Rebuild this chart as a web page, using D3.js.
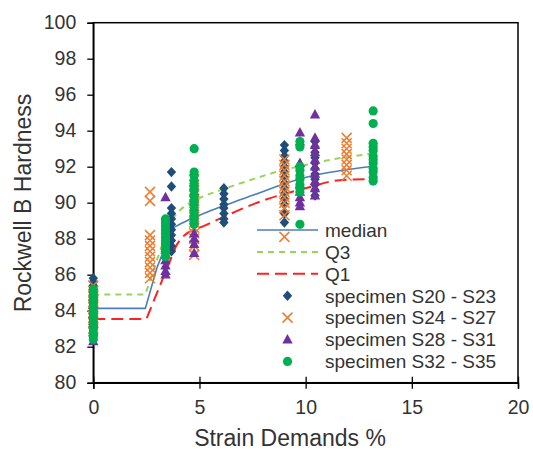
<!DOCTYPE html>
<html>
<head>
  <meta charset="utf-8">
  <script src="https://cdn.jsdelivr.net/npm/d3@7"></script>
  <style>
    body { margin: 0; background: #fff; }
    text { font-family: "Liberation Sans", Arial, sans-serif; fill: #333; }
  </style>
</head>
<body>
  <div id="chart"></div>
  <script>
    // quartile lines (strain %, Rockwell B)
    const medianStrain = [0, 2.45, 3.0, 3.75, 4.5, 5.4, 6.3, 7.6, 9.0, 10.5, 12.0, 13.0];
    const medianHard = [84.13, 84.13, 86.4, 88.6, 89.05, 89.5, 89.9, 90.45, 91.05, 91.55, 91.85, 92.0];
    const q3Strain = [0, 2.45, 3.6, 4.1, 5.0, 6.0, 7.4, 8.3, 10.0, 11.5, 13.0];
    const q3Hard = [84.9, 84.9, 88.9, 89.6, 90.25, 90.7, 91.26, 91.6, 92.1, 92.45, 92.7];
    const q1Strain = [0, 2.5, 3.9, 4.2, 5.3, 6.5, 7.6, 8.3, 10.0, 11.6, 12.9];
    const q1Hard = [83.54, 83.54, 87.6, 88.1, 88.75, 89.4, 89.95, 90.24, 90.8, 91.25, 91.3];
    // number of leading straight points on each line
    const straightPts = { median: 4, q3: 3, q1: 3 };

    // specimens: [strain, hardness]
    const s20_23 = [
      [0, 85.8], [0, 85.6], [0, 85.4], [0, 85.1], [0, 84.8], [0, 84.5], [0, 84.2], [0, 83.9], [0, 83.6], [0, 83.3], [0, 83.0], [0, 82.7],
      [3.68, 91.7], [3.68, 90.9], [3.68, 89.7], [3.68, 89.4], [3.68, 89.1], [3.68, 88.8], [3.68, 88.5], [3.68, 88.2], [3.68, 87.9], [3.68, 87.6], [3.68, 87.3],
      [6.15, 90.8], [6.15, 90.5], [6.15, 90.2], [6.15, 89.9], [6.15, 89.7], [6.15, 89.4], [6.15, 89.1], [6.15, 88.9],
      [9.0, 93.2], [9.0, 92.9], [9.0, 92.6], [9.0, 92.3], [9.0, 92.0], [9.0, 91.7], [9.0, 91.4], [9.0, 91.1], [9.0, 90.8], [9.0, 90.5], [9.0, 90.2], [9.0, 89.9], [9.0, 89.4], [9.0, 88.9],
      [10.44, 93.4], [10.44, 93.1], [10.44, 92.8], [10.44, 92.5], [10.44, 92.2], [10.44, 91.9], [10.44, 91.6], [10.44, 91.3], [10.44, 91.0], [10.44, 90.7], [10.44, 90.4]
    ];
    const s24_27 = [
      [0, 85.4], [0, 85.1], [0, 84.8], [0, 84.5], [0, 84.2], [0, 83.9], [0, 83.6], [0, 83.3], [0, 83.0],
      [2.67, 90.6], [2.67, 90.1], [2.67, 88.2], [2.67, 87.9], [2.67, 87.6], [2.67, 87.3], [2.67, 87.0], [2.67, 86.7], [2.67, 86.4], [2.67, 86.1], [2.67, 85.8],
      [4.75, 91.3], [4.75, 91.0], [4.75, 90.7], [4.75, 90.4], [4.75, 90.1], [4.75, 89.8], [4.75, 89.5], [4.75, 89.2], [4.75, 88.9], [4.75, 88.6], [4.75, 88.3], [4.75, 88.0], [4.75, 87.6], [4.75, 87.1],
      [9.0, 92.4], [9.0, 92.1], [9.0, 91.8], [9.0, 91.5], [9.0, 91.2], [9.0, 90.9], [9.0, 90.6], [9.0, 90.3], [9.0, 90.0], [9.0, 89.7], [9.0, 89.3], [9.0, 88.1],
      [11.93, 93.6], [11.93, 93.3], [11.93, 93.0], [11.93, 92.7], [11.93, 92.4], [11.93, 92.1], [11.93, 91.8], [11.93, 91.5]
    ];
    const s28_31 = [
      [0, 84.8], [0, 84.3], [0, 83.8], [0, 83.3], [0, 82.8], [0, 82.3],
      [3.4, 90.3], [3.4, 87.4], [3.4, 87.1], [3.4, 86.8], [3.4, 86.5], [3.4, 86.2], [3.4, 86.0],
      [4.75, 88.3], [4.75, 88.0], [4.75, 87.7], [4.75, 87.2],
      [9.73, 93.9], [9.73, 93.4], [9.73, 92.2], [9.73, 91.0], [9.73, 90.6], [9.73, 90.3], [9.73, 90.0], [9.73, 89.8],
      [10.44, 94.9], [10.44, 93.6], [10.44, 93.2], [10.44, 92.8], [10.44, 92.4], [10.44, 92.0], [10.44, 91.6], [10.44, 91.2], [10.44, 90.8], [10.44, 90.4]
    ];
    const s32_35 = [
      [0, 85.2], [0, 85.0], [0, 84.8], [0, 84.6], [0, 84.4], [0, 84.2], [0, 84.0], [0, 83.8], [0, 83.6], [0, 83.4], [0, 83.2], [0, 83.0], [0, 82.8], [0, 82.6], [0, 82.4],
      [3.4, 89.1], [3.4, 88.9], [3.4, 88.7], [3.4, 88.5], [3.4, 88.3], [3.4, 88.1], [3.4, 87.9], [3.4, 87.7], [3.4, 87.5], [3.4, 87.3], [3.4, 87.0],
      [4.75, 93.0], [4.75, 91.7], [4.75, 91.5], [4.75, 91.2], [4.75, 90.9], [4.75, 90.7], [4.75, 90.4], [4.75, 90.1], [4.75, 89.9], [4.75, 89.6], [4.75, 89.3], [4.75, 89.1], [4.75, 88.8],
      [9.73, 93.4], [9.73, 93.1], [9.73, 92.0], [9.73, 91.8], [9.73, 91.5], [9.73, 91.3], [9.73, 91.0], [9.73, 90.8], [9.73, 90.6], [9.73, 88.8],
      [13.18, 95.1], [13.18, 94.4], [13.18, 93.3], [13.18, 93.1], [13.18, 92.9], [13.18, 92.6], [13.18, 92.4], [13.18, 92.2], [13.18, 91.9], [13.18, 91.7], [13.18, 91.4], [13.18, 91.2]
    ];

    const xTicks = [0, 5, 10, 15, 20];
    const yTicks = [80, 82, 84, 86, 88, 90, 92, 94, 96, 98, 100];

    const W = 533, H = 450;
    const margin = { top: 22.7, right: 15, bottom: 67.3, left: 93.3 };

    const svg = d3.select("#chart").append("svg")
      .attr("width", W).attr("height", H);

    const x = d3.scaleLinear().domain([0, 20]).range([margin.left, W - margin.right]);
    const y = d3.scaleLinear().domain([80, 100]).range([H - margin.bottom, margin.top]);

    // frame
    svg.append("rect")
      .attr("x", x(0)).attr("y", y(100))
      .attr("width", x(20) - x(0)).attr("height", y(80) - y(100))
      .attr("fill", "none").attr("stroke", "#000").attr("stroke-width", 1.5);

    // y axis
    const yAxis = svg.append("g")
      .attr("transform", `translate(${x(0)},0)`)
      .call(d3.axisLeft(y).tickValues(yTicks).tickSize(6).tickPadding(11));
    // x axis
    const xAxis = svg.append("g")
      .attr("transform", `translate(0,${y(80)})`)
      .call(d3.axisBottom(x).tickValues(xTicks).tickSize(6).tickPadding(11));
    xAxis.selectAll(".tick line").attr("y1", -6).attr("y2", 6);

    [xAxis, yAxis].forEach(g => {
      g.select(".domain").attr("stroke", "#000").attr("stroke-width", 1.5);
      g.selectAll(".tick line").attr("stroke", "#000").attr("stroke-width", 1.3);
      g.selectAll("text").attr("font-size", 19.5).attr("fill", "#333")
        .style("font-family", "'Liberation Sans', Arial, sans-serif");
    });

    // axis titles
    svg.append("text")
      .attr("x", 290).attr("y", 446)
      .attr("text-anchor", "middle").attr("font-size", 23)
      .text("Strain Demands %");
    svg.append("text")
      .attr("transform", "translate(31,203) rotate(-90)")
      .attr("text-anchor", "middle").attr("font-size", 23)
      .text("Rockwell B Hardness");

    // quartile lines
    const lineDefs = [
      { key: "median", xs: medianStrain, ys: medianHard, color: "#4a7ebb", width: 1.6, dash: null, label: "median" },
      { key: "q3", xs: q3Strain, ys: q3Hard, color: "#9bd35a", width: 2, dash: "6,5", label: "Q3" },
      { key: "q1", xs: q1Strain, ys: q1Hard, color: "#ff2020", width: 2, dash: "12,6", label: "Q1" }
    ];

    const straight = d3.line().x(d => x(d[0])).y(d => y(d[1]));
    const smooth = d3.line().x(d => x(d[0])).y(d => y(d[1])).curve(d3.curveMonotoneX);

    lineDefs.forEach(l => {
      const pts = l.xs.map((v, i) => [v, l.ys[i]]);
      const k = straightPts[l.key];
      const d = straight(pts.slice(0, k)) + smooth(pts.slice(k - 1)).replace(/^M[^LC]*/, "");
      svg.append("path")
        .attr("d", d)
        .attr("fill", "none")
        .attr("stroke", l.color)
        .attr("stroke-width", l.width)
        .attr("stroke-dasharray", l.dash);
    });

    // markers
    const shapes = {
      diamond: "M0,-5.2L4.7,0L0,5.2L-4.7,0Z",
      cross: "M-5,-5L5,5M-5,5L5,-5",
      triangle: "M0,-5.6L5.2,3.9L-5.2,3.9Z"
    };
    const scatterDefs = [
      { data: s20_23, shape: "diamond", color: "#1f4e79", label: "specimen S20 - S23" },
      { data: s24_27, shape: "cross", color: "#ed7d31", label: "specimen S24 - S27" },
      { data: s28_31, shape: "triangle", color: "#7030a0", label: "specimen S28 - S31" },
      { data: s32_35, shape: "circle", color: "#00b050", label: "specimen S32 - S35" }
    ];

    function drawMarker(g, shape, color) {
      if (shape === "circle") {
        g.append("circle").attr("r", 4.6).attr("fill", color);
      } else if (shape === "cross") {
        g.append("path").attr("d", shapes.cross).attr("fill", "none")
          .attr("stroke", color).attr("stroke-width", 1.5);
      } else {
        g.append("path").attr("d", shapes[shape]).attr("fill", color);
      }
    }

    scatterDefs.forEach(s => {
      svg.append("g").selectAll("g")
        .data(s.data)
        .enter()
        .append("g")
        .attr("transform", d => `translate(${x(d[0])},${y(d[1])})`)
        .each(function () { drawMarker(d3.select(this), s.shape, s.color); });
    });

    // legend
    const legX0 = 257, legX1 = 318, legTextX = 325;
    const rowY = [230, 251.9, 273.8, 295.7, 317.6, 339.5, 361.4];
    const legend = svg.append("g");
    lineDefs.forEach((l, i) => {
      legend.append("line")
        .attr("x1", legX0).attr("x2", legX1)
        .attr("y1", rowY[i]).attr("y2", rowY[i])
        .attr("stroke", l.color).attr("stroke-width", l.width)
        .attr("stroke-dasharray", l.dash);
      legend.append("text")
        .attr("x", legTextX).attr("y", rowY[i]).attr("dy", "0.36em")
        .attr("font-size", 19).text(l.label);
    });
    scatterDefs.forEach((s, i) => {
      const ry = rowY[i + 3];
      const g = legend.append("g").attr("transform", `translate(${(legX0 + legX1) / 2},${ry})`);
      drawMarker(g, s.shape, s.color);
      legend.append("text")
        .attr("x", legTextX).attr("y", ry).attr("dy", "0.36em")
        .attr("font-size", 19).text(s.label);
    });
  </script>
</body>
</html>
